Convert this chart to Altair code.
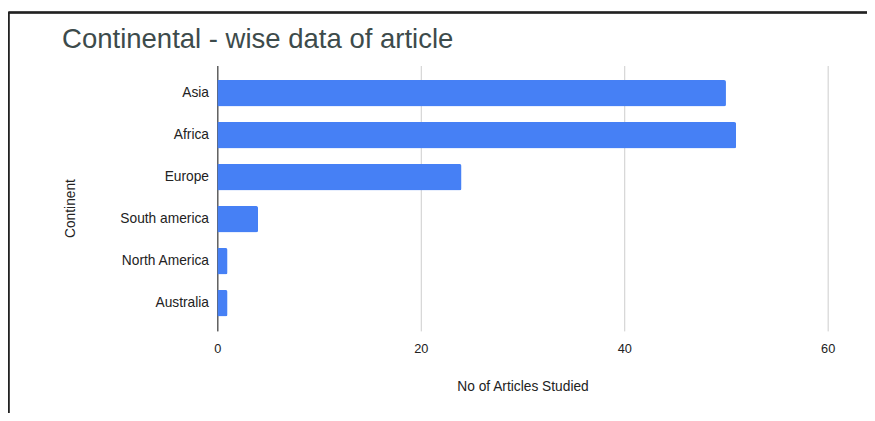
import altair as alt
import pandas as pd

continents = ["Asia", "Africa", "Europe", "South america", "North America", "Australia"]
articles = [50, 51, 24, 4, 1, 1]
chart_title = ["Continental - wise data of article"]

df = pd.DataFrame({"Continent": continents, "Articles": articles})
tdf = pd.DataFrame({"t": chart_title})

W, H = 621, 270
PL, PT = 213, 55

bars = alt.Chart(df).mark_bar(color="#4680f5", cornerRadiusEnd=2).encode(
    y=alt.Y("Continent:N", sort=continents,
            scale=alt.Scale(paddingInner=0.37, paddingOuter=0.345),
            axis=alt.Axis(title="Continent", domain=True, domainColor="#222222",
                          domainWidth=1, ticks=False, labelPadding=9,
                          labelFontSize=14, labelColor="#222222", labelFont="Liberation Sans",
                          titleFontSize=14, titleFontWeight="normal", titleColor="#222222",
                          titleFont="Liberation Sans", titleX=-142, titleY=145)),
    x=alt.X("Articles:Q", scale=alt.Scale(domain=[0, 60], nice=False),
            axis=alt.Axis(title="No of Articles Studied", values=[0, 20, 40, 60],
                          domain=False, ticks=False, grid=True, gridColor="#cccccc",
                          labelFlush=False, labelFontSize=13, labelColor="#222222",
                          labelFont="Liberation Sans", labelPadding=12, titleFontSize=14,
                          titleFontWeight="normal", titleColor="#222222",
                          titleFont="Liberation Sans", titlePadding=25)),
)

title = alt.Chart(tdf).mark_text(align="left", baseline="alphabetic", fontSize=28,
                                 font="Liberation Sans", color="#3d4b4b").encode(
    text="t:N", x=alt.value(-158), y=alt.value(-18))

border_left = alt.Chart(df).mark_rule(color="#222222", strokeWidth=1.5).encode(
    x=alt.value(-PL + 0.5), y=alt.value(-PT + 1), y2=alt.value(H + 200))
border_top = alt.Chart(df).mark_rule(color="#222222", strokeWidth=1.5).encode(
    x=alt.value(-PL + 0.5), x2=alt.value(W + 200), y=alt.value(-PT + 1))

chart = alt.layer(bars, title, border_left, border_top).properties(
    width=W, height=H,
    autosize=alt.AutoSizeParams(type="none"),
    padding={"left": PL, "top": PT, "right": 40, "bottom": 80},
).configure_view(stroke=None)

chart.save("out.html", embed_options={"renderer": "svg", "actions": False})
